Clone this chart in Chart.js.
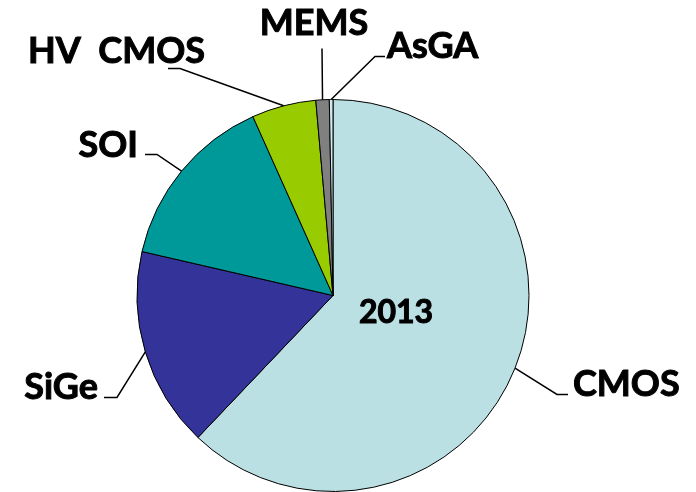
<!DOCTYPE html>
<html>
<head>
<meta charset="utf-8">
<script src="https://cdn.jsdelivr.net/npm/chart.js@4/dist/chart.umd.min.js"></script>
<style>
  html, body { margin: 0; padding: 0; background: #fff; }
  #wrap { width: 696px; height: 492px; }
</style>
</head>
<body>
<div id="wrap"><canvas id="myChart" width="696" height="492"></canvas></div>
<script>
// parts du marché par technologie, 2013 (%)
var technos = ['CMOS', 'SiGe', 'SOI', 'HV  CMOS', 'MEMS', 'AsGA'];
var parts = [62.1, 16.5, 14.7, 5.3, 1.1, 0.3];
var couleurs = ['#bae0e3', '#333399', '#009999', '#99cc00', '#808080', '#d2eaee'];
var annee = '2013';

// placement des étiquettes, relatif au centre du camembert
var coudes = [[224, 99], [-216, 102], [-176, -141], [-153, -227], [-11, -247], [42, -239]];
var queues = [11, -13, -12, -12, 0, 10];
var textes = [[240, 100, 'left'], [-235, 103, 'right'], [-195, -139, 'right'],
              [-128, -233, 'right'], [-19, -261, 'center'], [54, -238, 'left']];

var police = 'Lato, "Open Sans", sans-serif';

// texte gras un peu épaissi
function ecrire(ctx, txt, x, y) {
    ctx.fillText(txt, x, y);
    ctx.strokeText(txt, x, y);
}

var etiquettes = {
    id: 'etiquettes',
    afterDatasetsDraw: function (chart) {
        var ctx = chart.ctx;
        var arcs = chart.getDatasetMeta(0).data;
        var cx = arcs[0].x, cy = arcs[0].y;
        ctx.save();
        ctx.strokeStyle = '#000';
        arcs.forEach(function (arc, i) {
            var p = arc.getProps(['startAngle', 'endAngle', 'outerRadius'], true);
            var mid = (p.startAngle + p.endAngle) / 2;
            var ax = cx + Math.cos(mid) * p.outerRadius;
            var ay = cy + Math.sin(mid) * p.outerRadius;
            var ex = cx + coudes[i][0], ey = cy + coudes[i][1];
            ctx.lineWidth = 1.5;
            ctx.beginPath();
            ctx.moveTo(ax, ay);
            ctx.lineTo(ex, ey);
            if (queues[i]) ctx.lineTo(ex + queues[i], ey);
            ctx.stroke();

            ctx.fillStyle = '#000';
            ctx.lineWidth = 1;
            ctx.font = 'bold 36px ' + police;
            ctx.textAlign = textes[i][2];
            ctx.textBaseline = 'alphabetic';
            ecrire(ctx, technos[i], cx + textes[i][0], cy + textes[i][1]);
        });
        // année au centre
        ctx.lineWidth = 1;
        ctx.font = 'bold 32px ' + police;
        ctx.textAlign = 'center';
        ecrire(ctx, annee, cx + 63, cy + 27);
        ctx.restore();
    }
};

var ctx = document.getElementById('myChart').getContext('2d');
var chart = new Chart(ctx, {
    type: 'pie',
    data: {
        labels: technos,
        datasets: [{
            data: parts,
            backgroundColor: couleurs,
            borderColor: '#000',
            borderWidth: 1
        }]
    },
    options: {
        responsive: false,
        animation: false,
        layout: { padding: { top: 99, bottom: 0, left: 136, right: 166 } },
        plugins: {
            legend: { display: false },
            tooltip: { enabled: false }
        }
    },
    plugins: [etiquettes]
});
</script>
</body>
</html>
